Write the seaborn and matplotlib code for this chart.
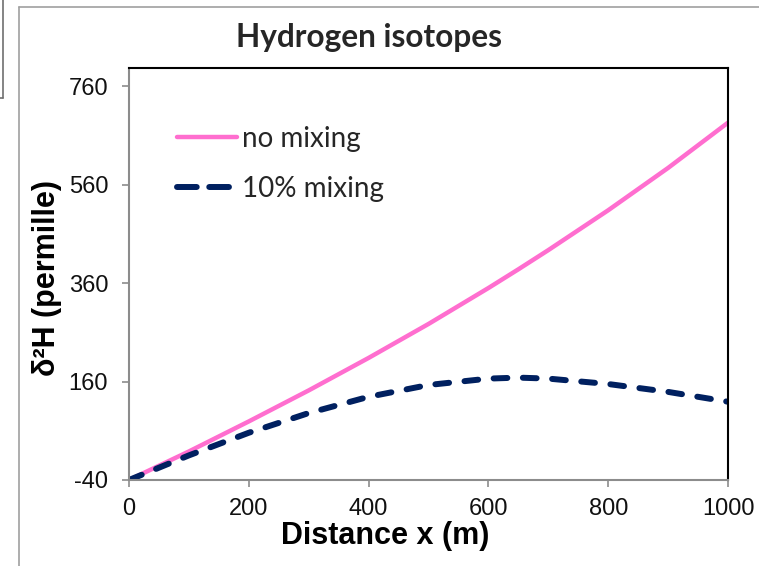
import numpy as np
import pandas as pd
import matplotlib
matplotlib.use("Agg")
import matplotlib.pyplot as plt
from matplotlib.lines import Line2D
import seaborn as sns

# Data
distance = [0, 100, 200, 300, 400, 500, 600, 650, 700, 800, 900, 1000]
no_mixing = [-40, 18, 79, 142, 208, 277, 350, 388, 427, 508, 594, 686]
mixing_10 = [-40, 10, 56, 96, 129, 153, 166, 168, 166, 155, 139, 119]
series_names = ["no mixing", "10% mixing"]
x_ticks = [0, 200, 400, 600, 800, 1000]
y_ticks = [-40, 160, 360, 560, 760]

df = pd.DataFrame({
    "x": distance * 2,
    "y": no_mixing + mixing_10,
    "series": [series_names[0]] * len(distance) + [series_names[1]] * len(distance),
})

sns.set_theme(style="white")
plt.rcParams["font.family"] = ["Liberation Sans", "DejaVu Sans"]
plt.rcParams["axes.unicode_minus"] = False

fig = plt.figure(figsize=(7.59, 5.66), dpi=100)
ax = fig.add_axes([129 / 759, 1 - 480 / 566, 599 / 759, 412 / 566])

palette = {"no mixing": "#FF6ECF", "10% mixing": "#002060"}
sns.lineplot(data=df, x="x", y="y", hue="series", style="series",
             palette=palette, dashes={"no mixing": "", "10% mixing": (2.3, 2.6)},
             ax=ax, legend=False, sort=False)
lines = ax.get_lines()
lines[0].set_linewidth(3.2)
lines[1].set_linewidth(4.3)
lines[1].set_dash_capstyle("round")
lines[0].set_solid_capstyle("round")

ax.set_xlim(0, 1000)
ax.set_ylim(-40, 797)
ax.set_xticks(x_ticks)
ax.set_yticks(y_ticks)
ax.tick_params(axis="both", which="major", direction="out", length=5, width=1.2,
               color="#8C8C8C", labelsize=17, bottom=True, left=True,
               labelcolor="#111111")
ax.tick_params(axis="y", pad=10)
ax.tick_params(axis="x", pad=8)

for side in ["top", "right"]:
    ax.spines[side].set_color("black")
    ax.spines[side].set_linewidth(1.5)
for side in ["left", "bottom"]:
    ax.spines[side].set_color("#8C8C8C")
    ax.spines[side].set_linewidth(1.5)

ax.set_xlabel("Distance x (m)", fontsize=22, fontweight="bold", color="black")
ax.set_ylabel("δ²H (permille)", fontsize=22, fontweight="bold", color="black")
ax.xaxis.set_label_coords((385 - 129) / 599, (480 - 521) / 412)
ax.xaxis.label.set_va("top")
ax.yaxis.set_label_coords((62 - 129) / 599, 0.49)

fig.text(369 / 759, 1 - 38 / 566, "Hydrogen isotopes", ha="center", va="center",
         fontsize=22.8, fontweight="bold", family=["Lato", "DejaVu Sans"])

handles = [Line2D([0], [0], color="#FF6ECF", lw=3.2, solid_capstyle="round"),
           Line2D([0], [0], color="#002060", lw=4.3, dashes=(3.3, 2.1), dash_capstyle="round")]
leg = ax.legend(handles, series_names, loc="upper left", bbox_to_anchor=(0.038, 0.92),
                frameon=False, handlelength=2.16, handletextpad=0.2, labelspacing=0.85,
                prop={"family": ["Lato", "DejaVu Sans"], "size": 20})

# outer frame lines of the screenshot
fig.add_artist(Line2D([19 / 759, 19 / 759], [0, 1 - 7 / 566], color="#A0A0A0", lw=1.2))
fig.add_artist(Line2D([19 / 759, 1], [1 - 7 / 566, 1 - 7 / 566], color="#A0A0A0", lw=1.2))
fig.add_artist(Line2D([3 / 759, 3 / 759], [1, 1 - 98 / 566], color="#707070", lw=1.2))
fig.add_artist(Line2D([0, 3 / 759], [1 - 98 / 566, 1 - 98 / 566], color="#707070", lw=1.2))

fig.savefig("out.png", dpi=100)
